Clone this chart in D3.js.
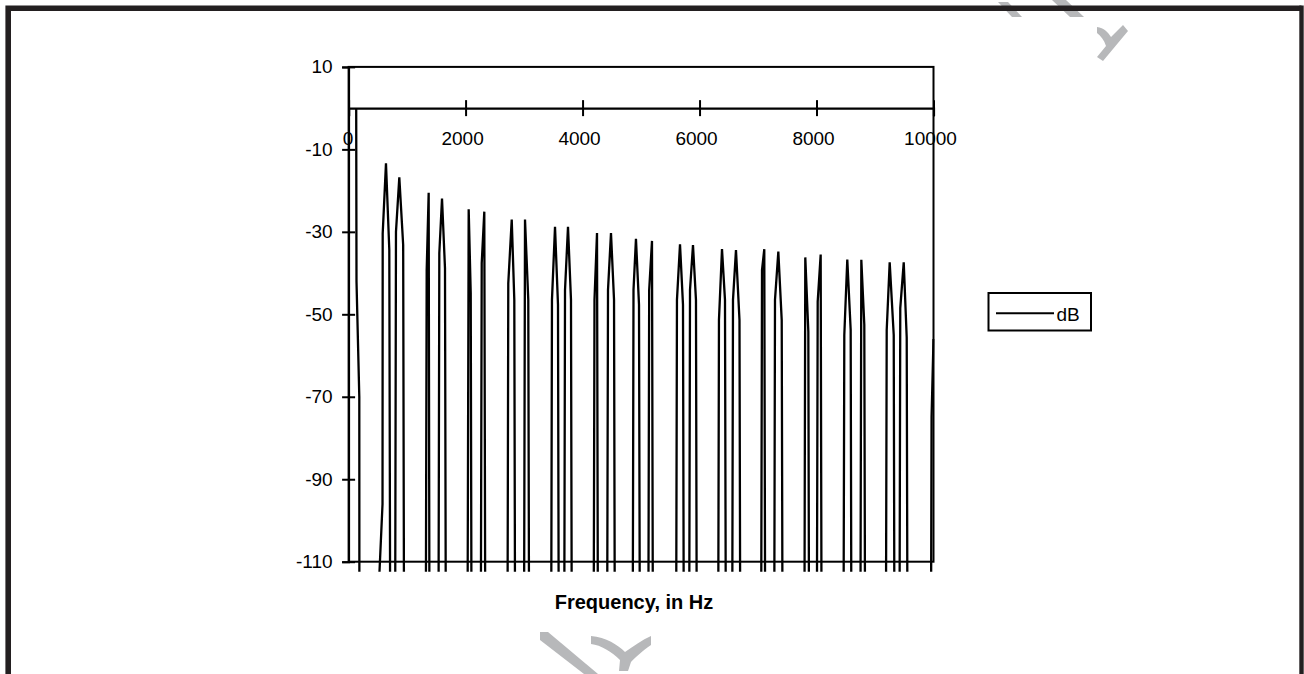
<!DOCTYPE html>
<html>
<head>
<meta charset="utf-8">
<script src="https://cdn.jsdelivr.net/npm/d3@7"></script>
<style>
  body { margin: 0; background: #fff; }
  svg { display: block; }
  text { font-family: "Liberation Sans", Arial, sans-serif; }
</style>
</head>
<body>
<svg id="chart" width="1304" height="674"></svg>
<script>
// Spectrum samples: frequency (Hz) and level (dB). -300 marks bins far below the axis floor.
const freqHz = [
  130, 135, 183, 190,
  470, 520, 580, 583, 639, 696, 740,
  770, 810, 867, 933, 975,
  1290, 1335, 1369, 1404,
  1510, 1551, 1597, 1648, 1690,
  2000, 2053, 2088, 2130,
  2230, 2276, 2320, 2365,
  2690, 2730, 2789, 2833, 2875,
  2970, 3016, 3072, 3115,
  3435, 3477, 3529, 3580, 3620,
  3660, 3700, 3751, 3802, 3845,
  4160, 4204, 4247, 4290,
  4390, 4435, 4486, 4538, 4580,
  4830, 4871, 4913, 4965, 5010,
  5095, 5139, 5187, 5230,
  5570, 5614, 5666, 5717, 5760,
  5795, 5837, 5888, 5939, 5980,
  6290, 6332, 6384, 6435, 6480,
  6530, 6572, 6623, 6683, 6725,
  7025, 7068, 7107, 7150,
  7250, 7290, 7347, 7405, 7450,
  7765, 7808, 7860, 7900,
  7975, 8020, 8071, 8115,
  8430, 8475, 8526, 8584, 8625,
  8720, 8766, 8817, 8860,
  9155, 9200, 9251, 9320, 9360,
  9390, 9432, 9491, 9542, 9585,
  9925, 9967, 10000
];
const levelDb = [
  0, -42, -70, -300,
  -300, -115, -96, -30.4, -13.4, -34.4, -300,
  -300, -30.0, -16.8, -33.2, -300,
  -300, -39.3, -20.5, -300,
  -300, -35.2, -21.9, -38.8, -300,
  -300, -24.5, -44.9, -300,
  -300, -37.6, -25.1, -300,
  -300, -42.5, -27.0, -46.5, -300,
  -300, -27.0, -46.5, -300,
  -300, -46.5, -28.8, -47.7, -300,
  -300, -44.1, -28.8, -46.5, -300,
  -300, -46.5, -30.3, -300,
  -300, -44.1, -30.3, -46.5, -300,
  -300, -44.1, -31.7, -47.7, -300,
  -300, -44.1, -32.2, -300,
  -300, -46.5, -33.0, -47.7, -300,
  -300, -44.1, -33.2, -46.5, -300,
  -300, -51.4, -34.2, -46.5, -300,
  -300, -46.5, -34.4, -51.4, -300,
  -300, -39.3, -34.2, -300,
  -300, -46.5, -34.8, -51.4, -300,
  -300, -36.2, -54.2, -300,
  -300, -46.9, -35.5, -300,
  -300, -55.0, -36.7, -53.8, -300,
  -300, -36.8, -52.6, -300,
  -300, -53.8, -37.4, -55.0, -300,
  -300, -48.5, -37.4, -55.7, -300,
  -300, -74.9, -56
];
const xTickValues = [0, 2000, 4000, 6000, 8000, 10000];
const yTickValues = [10, -10, -30, -50, -70, -90, -110];
const seriesName = "dB";
const xTitle = "Frequency, in Hz";

const svg = d3.select("#chart");
const plot = { left: 348.6, right: 933.5, top: 66.9, bottom: 561.7 };

const x = d3.scaleLinear().domain([0, 10000]).range([plot.left, plot.right]);
const y = d3.scaleLinear().domain([10, -110]).range([plot.top, plot.bottom]);

// Plain hyphen-minus labels
const fmt = d => String(d);

// Watermark fragments (light grey), behind everything else
const wm = svg.append("g").attr("fill", "#b7b8ba");
wm.append("path").attr("d", "M998,2 L1008,2 L1022,17 L1012,17 Z");
wm.append("path").attr("d", "M1052,0 L1066,0 L1084,17 L1070,17 Z");
wm.append("path").attr("d", "M1097,27 C1104,28 1108,32 1111,37 L1123,25 L1128,31 L1103,61 L1097,57 L1106,46 C1104,40 1101,36 1097,33 Z");
wm.append("path").attr("d", "M540,632 L548,632 L598,674 L584,674 L540,640 Z");
wm.append("path").attr("d", "M591,636 C606,637 618,645 625,652 C634,646 642,640 651,636 L651,645 C642,651 636,657 631,662 L628,671 L619,671 L620,660 C612,652 601,645 591,644 Z");

// Outer frame
svg.append("path")
  .attr("d", "M8.2,674 V8.2 H1301.5")
  .attr("fill", "none").attr("stroke", "#231f20").attr("stroke-width", 5.6);
svg.append("line")
  .attr("x1", 1301.5).attr("x2", 1301.5).attr("y1", 5.4).attr("y2", 674)
  .attr("stroke", "#231f20").attr("stroke-width", 4.4);

// Plot area border
svg.append("rect")
  .attr("x", plot.left).attr("y", plot.top)
  .attr("width", plot.right - plot.left).attr("height", plot.bottom - plot.top)
  .attr("fill", "none").attr("stroke", "#000").attr("stroke-width", 2);

// Data line, clipped a little below the floor of the value axis
svg.append("clipPath").attr("id", "clip")
  .append("rect")
  .attr("x", plot.left).attr("y", plot.top)
  .attr("width", plot.right - plot.left + 1).attr("height", plot.bottom - plot.top + 10);

const points = freqHz.map((f, i) => [f, levelDb[i]]);
const line = d3.line().x(d => x(d[0])).y(d => y(d[1]));
svg.append("path")
  .datum(points)
  .attr("clip-path", "url(#clip)")
  .attr("d", line)
  .attr("fill", "none").attr("stroke", "#000").attr("stroke-width", 2.3)
  .attr("stroke-linejoin", "miter");

// Value axis with cross tick marks
const yAxis = svg.append("g")
  .attr("transform", `translate(${x(0)},0)`)
  .call(d3.axisLeft(y).tickValues(yTickValues).tickSize(6.5).tickFormat(fmt));
yAxis.select(".domain").attr("stroke", "#000").attr("stroke-width", 2);
yAxis.selectAll(".tick line").attr("x1", -6.5).attr("x2", 6.5).attr("stroke", "#000").attr("stroke-width", 2);
yAxis.selectAll(".tick text")
  .attr("x", -16).attr("fill", "#000")
  .style("font-size", "19px").style("font-family", "'Liberation Sans', Arial, sans-serif");

// Frequency axis crossing at 0 dB
const xAxis = svg.append("g")
  .attr("transform", `translate(0,${y(0)})`)
  .call(d3.axisBottom(x).tickValues(xTickValues).tickSize(8).tickFormat(fmt));
xAxis.select(".domain").attr("stroke", "#000").attr("stroke-width", 2.2);
xAxis.selectAll(".tick line").attr("y1", -8).attr("y2", 8).attr("stroke", "#000").attr("stroke-width", 2);
xAxis.selectAll(".tick text")
  .attr("y", 37).attr("dy", 0).attr("x", d => d === 0 ? -1 : -3.5).attr("fill", "#000")
  .style("font-size", "19px").style("font-family", "'Liberation Sans', Arial, sans-serif");

// Axis title
svg.append("text")
  .attr("x", 634).attr("y", 608.5)
  .attr("text-anchor", "middle")
  .style("font-size", "20px").style("font-weight", "bold")
  .text(xTitle);

// Legend
const legend = svg.append("g");
legend.append("rect")
  .attr("x", 988.5).attr("y", 293).attr("width", 102.5).attr("height", 37.5)
  .attr("fill", "#fff").attr("stroke", "#000").attr("stroke-width", 2);
legend.append("line")
  .attr("x1", 996).attr("x2", 1054).attr("y1", 313.3).attr("y2", 313.3)
  .attr("stroke", "#000").attr("stroke-width", 2);
legend.append("text")
  .attr("x", 1056.5).attr("y", 320.5)
  .style("font-size", "19px")
  .text(seriesName);
</script>
</body>
</html>
